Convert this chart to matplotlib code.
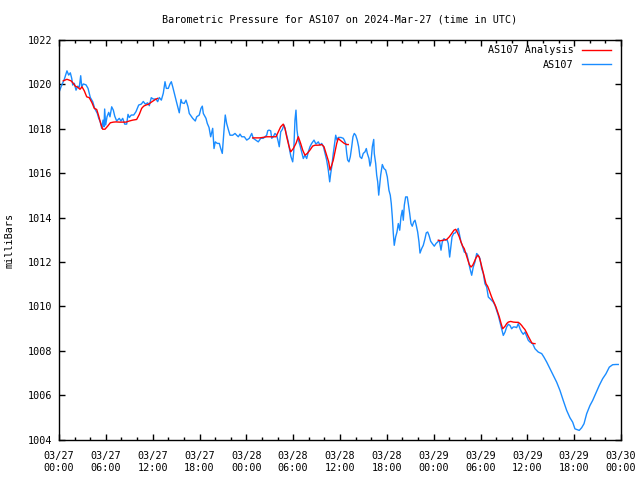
import numpy as np
import matplotlib
matplotlib.use("Agg")
import matplotlib.pyplot as plt
from matplotlib.ticker import MultipleLocator, FixedLocator

# ---- data (hours since 2024-03-27 00:00 UTC, pressure in mbar) ----
blue_hours = [0.00, 0.26, 0.68, 1.02, 1.24, 1.45, 1.63, 1.76, 1.96, 2.18, 2.40, 2.60, 2.78, 2.91, 3.11, 3.46, 3.72, 4.01, 4.32, 4.57,
              4.91, 5.09, 5.29, 5.47, 5.64, 5.76, 5.85, 5.98, 6.15, 6.37, 6.53, 6.75, 6.96, 7.14, 7.39, 7.72, 7.94, 8.16, 8.42, 8.67,
              8.84, 9.01, 9.26, 9.57, 9.86, 10.21, 10.54, 10.80, 11.06, 11.36, 11.57, 11.82, 12.08, 12.43, 12.64, 12.85, 13.11, 13.36, 13.58, 13.75,
              14.00, 14.22, 14.39, 14.57, 14.77, 15.08, 15.41, 15.63, 15.76, 16.05, 16.27, 16.53, 16.69, 17.13, 17.46, 17.64, 17.97, 18.19, 18.36, 18.49,
              18.83, 19.00, 19.22, 19.43, 19.69, 19.86, 20.02, 20.28, 20.54, 20.72, 20.92, 21.14, 21.30, 21.48, 21.69, 21.91, 22.25, 22.55, 22.76, 22.97,
              23.19, 23.41, 23.74, 24.05, 24.38, 24.69, 24.89, 25.20, 25.53, 25.84, 26.17, 26.39, 26.61, 26.74, 26.90, 27.12, 27.25, 27.45, 27.67, 27.89,
              28.09, 28.22, 28.40, 28.61, 28.82, 28.95, 29.17, 29.37, 29.59, 29.72, 29.94, 30.07, 30.23, 30.36, 30.49, 30.66, 30.87, 31.09, 31.30, 31.51,
              31.73, 31.94, 32.15, 32.37, 32.67, 32.92, 33.22, 33.44, 33.65, 33.86, 34.08, 34.29, 34.50, 34.68, 34.81, 34.94, 35.14, 35.36, 35.45, 35.61,
              35.78, 36.13, 36.42, 36.55, 36.73, 36.86, 36.98, 37.15, 37.32, 37.50, 37.66, 37.83, 38.01, 38.21, 38.39, 38.56, 38.78, 38.98, 39.20, 39.37,
              39.50, 39.71, 39.84, 39.97, 40.14, 40.32, 40.39, 40.57, 40.70, 40.83, 40.96, 41.08, 41.21, 41.42, 41.63, 41.85, 42.06, 42.27, 42.44, 42.57,
              42.70, 42.83, 42.95, 43.13, 43.30, 43.47, 43.65, 43.81, 43.98, 44.11, 44.24, 44.41, 44.62, 44.75, 44.93, 45.09, 45.26, 45.44, 45.61, 45.77,
              45.95, 46.12, 46.25, 46.46, 46.67, 46.89, 47.05, 47.23, 47.40, 47.62, 47.82, 48.08, 48.30, 48.51, 48.72, 48.94, 49.10, 49.32, 49.54, 49.71,
              49.87, 50.05, 50.18, 50.35, 50.56, 50.77, 50.99, 51.15, 51.33, 51.50, 51.72, 51.92, 52.23, 52.43, 52.65, 52.87, 53.07, 53.29, 53.51, 53.72,
              53.93, 54.15, 54.36, 54.57, 54.79, 55.00, 55.21, 55.43, 55.64, 55.85, 56.07, 56.28, 56.49, 56.71, 56.92, 57.14, 57.35, 57.56, 57.78, 57.99,
              58.20, 58.42, 58.63, 58.84, 59.06, 59.27, 59.48, 59.70, 59.92, 60.12, 60.34, 60.68, 60.98, 61.40, 61.84, 62.13, 62.48, 62.90, 63.32, 63.76,
              64.18, 64.60, 65.04, 65.46, 65.81, 66.10, 66.40, 66.65, 66.96, 67.26, 67.60, 68.02, 68.37, 68.79, 69.22, 69.65, 70.07, 70.50, 70.93, 71.36,
              71.65]
blue_hpa = [1019.64, 1019.89, 1020.23, 1020.61, 1020.42, 1020.52, 1020.27, 1019.97, 1020.05, 1019.74, 1019.92, 1019.87, 1020.39, 1019.89, 1020.02, 1019.98, 1019.82, 1019.41, 1019.22, 1018.92,
            1018.69, 1018.47, 1018.31, 1018.02, 1018.39, 1018.09, 1018.89, 1018.17, 1018.54, 1018.74, 1018.54, 1018.99, 1018.84, 1018.57, 1018.35, 1018.47, 1018.35, 1018.47, 1018.21, 1018.21,
            1018.65, 1018.51, 1018.62, 1018.62, 1018.77, 1019.07, 1019.11, 1019.23, 1019.11, 1019.17, 1019.04, 1019.40, 1019.34, 1019.34, 1019.22, 1019.41, 1019.29, 1019.60, 1020.12, 1019.82,
            1019.82, 1020.02, 1020.12, 1019.89, 1019.60, 1019.17, 1018.72, 1019.32, 1019.17, 1019.14, 1019.29, 1018.99, 1018.69, 1018.47, 1018.35, 1018.54, 1018.62, 1018.92, 1019.02, 1018.69,
            1018.47, 1018.24, 1018.06, 1017.64, 1018.02, 1017.11, 1017.41, 1017.34, 1017.34, 1017.11, 1016.89, 1017.94, 1018.62, 1018.24, 1017.97, 1017.71, 1017.71, 1017.79, 1017.71, 1017.64,
            1017.76, 1017.64, 1017.64, 1017.49, 1017.57, 1017.79, 1017.57, 1017.49, 1017.41, 1017.57, 1017.57, 1017.64, 1017.71, 1017.91, 1017.94, 1017.91, 1017.57, 1017.64, 1017.79, 1017.71,
            1017.41, 1017.19, 1017.86, 1017.97, 1018.17, 1018.02, 1017.71, 1017.41, 1016.96, 1016.74, 1016.51, 1016.96, 1018.39, 1018.84, 1017.94, 1017.49, 1017.26, 1016.96, 1016.66, 1016.81,
            1016.66, 1016.96, 1017.19, 1017.34, 1017.49, 1017.31, 1017.41, 1017.26, 1017.34, 1017.22, 1016.89, 1016.59, 1016.14, 1015.61, 1015.99, 1016.28, 1016.89, 1017.49, 1017.71, 1017.49,
            1017.61, 1017.61, 1017.57, 1017.49, 1017.34, 1016.89, 1016.59, 1016.51, 1016.74, 1017.19, 1017.64, 1017.79, 1017.71, 1017.49, 1017.19, 1016.74, 1016.66, 1016.89, 1016.96, 1017.11,
            1016.89, 1016.66, 1016.32, 1016.51, 1017.19, 1017.52, 1016.89, 1016.44, 1015.91, 1015.61, 1015.01, 1015.46, 1015.91, 1016.39, 1016.21, 1016.14, 1015.83, 1015.23, 1015.01, 1014.63,
            1014.03, 1013.28, 1012.75, 1013.13, 1013.35, 1013.73, 1013.43, 1014.03, 1014.33, 1013.88, 1014.56, 1014.93, 1014.93, 1014.63, 1014.18, 1013.73, 1013.61, 1013.80, 1013.88, 1013.65,
            1013.35, 1012.90, 1012.40, 1012.60, 1012.75, 1013.05, 1013.31, 1013.35, 1013.20, 1012.93, 1012.83, 1012.71, 1012.83, 1012.90, 1012.98, 1012.53, 1012.90, 1013.05, 1012.98, 1013.01,
            1012.83, 1012.22, 1012.60, 1013.13, 1013.28, 1013.31, 1013.43, 1013.51, 1013.20, 1012.90, 1012.68, 1012.45, 1012.38, 1012.08, 1011.70, 1011.40, 1011.77, 1012.00, 1012.38, 1012.30,
            1012.15, 1011.70, 1011.48, 1011.02, 1010.87, 1010.42, 1010.35, 1010.27, 1010.19, 1010.05, 1009.82, 1009.59, 1009.29, 1008.99, 1008.69, 1008.84, 1009.07, 1009.19, 1009.14, 1008.99,
            1009.07, 1009.07, 1009.04, 1009.22, 1008.99, 1008.84, 1008.74, 1008.84, 1008.65, 1008.47, 1008.39, 1008.32, 1008.09, 1007.94, 1007.87, 1007.71, 1007.49, 1007.19, 1006.89, 1006.58,
            1006.21, 1005.76, 1005.31, 1004.98, 1004.78, 1004.48, 1004.44, 1004.41, 1004.53, 1004.71, 1005.16, 1005.53, 1005.76, 1006.09, 1006.44, 1006.74, 1006.96, 1007.26, 1007.37, 1007.38,
            1007.38]

# analysis series: three segments (separated by gaps in the record)
red_hours_1 = [0.55, 1.02, 1.54, 1.83, 2.09, 2.40, 2.69, 2.95, 3.24, 3.55, 3.88, 4.23, 4.52, 4.83, 5.09, 5.34, 5.60, 5.89, 6.24, 6.57,
               6.96, 7.30, 7.72, 8.16, 8.58, 9.01, 9.44, 9.95, 10.29, 10.59, 10.85, 11.15, 11.49, 11.79, 12.08, 12.34, 12.64]
red_hpa_1 = [1020.16, 1020.23, 1020.16, 1020.05, 1019.92, 1019.87, 1019.78, 1019.89, 1019.71, 1019.44, 1019.40, 1019.17, 1018.92, 1018.87, 1018.57, 1018.24, 1017.98, 1017.98, 1018.12, 1018.27,
             1018.30, 1018.31, 1018.30, 1018.30, 1018.30, 1018.35, 1018.39, 1018.42, 1018.65, 1018.92, 1019.02, 1019.07, 1019.11, 1019.19, 1019.26, 1019.32, 1019.37]
red_hours_2 = [24.81, 25.75, 26.61, 27.80, 28.09, 28.40, 28.73, 28.95, 29.17, 29.43, 29.68, 30.02, 30.36, 30.66, 30.96, 31.22, 31.51, 31.81, 32.15, 32.50,
               32.80, 33.22, 33.65, 33.95, 34.29, 34.55, 34.72, 34.94, 35.14, 35.36, 35.58, 35.78, 36.00, 36.29, 36.55, 36.86, 37.06]
red_hpa_2 = [1017.59, 1017.59, 1017.64, 1017.64, 1017.86, 1018.09, 1018.21, 1018.02, 1017.64, 1017.26, 1016.96, 1017.11, 1017.34, 1017.64, 1017.34, 1017.04, 1016.81, 1016.89, 1017.04, 1017.22,
             1017.26, 1017.26, 1017.29, 1017.19, 1016.81, 1016.51, 1016.14, 1016.36, 1016.59, 1016.96, 1017.34, 1017.57, 1017.49, 1017.41, 1017.34, 1017.29, 1017.29]
red_hours_3 = [48.59, 48.81, 49.23, 49.67, 50.00, 50.31, 50.60, 50.82, 51.02, 51.28, 51.50, 51.72, 51.92, 52.14, 52.36, 52.56, 52.78, 53.00, 53.20, 53.42,
               53.64, 53.84, 54.06, 54.28, 54.48, 54.70, 54.92, 55.12, 55.34, 55.56, 55.76, 55.98, 56.20, 56.41, 56.62, 56.84, 57.14, 57.35, 57.56, 57.87,
               58.20, 58.55, 58.84, 59.06, 59.27, 59.48, 59.70, 59.92, 60.12, 60.34, 60.59, 60.89, 60.98]
red_hpa_3 = [1012.98, 1012.95, 1012.98, 1013.01, 1013.13, 1013.28, 1013.43, 1013.47, 1013.35, 1013.13, 1012.90, 1012.71, 1012.60, 1012.35, 1012.11, 1011.89, 1011.77, 1011.85, 1012.00, 1012.18,
             1012.30, 1012.22, 1011.93, 1011.62, 1011.32, 1011.02, 1010.90, 1010.72, 1010.50, 1010.30, 1010.15, 1009.97, 1009.74, 1009.52, 1009.25, 1008.99, 1009.10, 1009.22, 1009.29, 1009.32,
             1009.29, 1009.28, 1009.28, 1009.22, 1009.14, 1009.04, 1008.95, 1008.80, 1008.65, 1008.50, 1008.34, 1008.32, 1008.32]

x_tick_hours = [0, 6, 12, 18, 24, 30, 36, 42, 48, 54, 60, 66, 72]
x_tick_labels = ["03/27\n00:00", "03/27\n06:00", "03/27\n12:00", "03/27\n18:00",
                 "03/28\n00:00", "03/28\n06:00", "03/28\n12:00", "03/28\n18:00",
                 "03/29\n00:00", "03/29\n06:00", "03/29\n12:00", "03/29\n18:00",
                 "03/30\n00:00"]
y_ticks = [1004, 1006, 1008, 1010, 1012, 1014, 1016, 1018, 1020, 1022]

title = "Barometric Pressure for AS107 on 2024-Mar-27 (time in UTC)"
ylabel = "milliBars"
label_red = "AS107 Analysis"
label_blue = "AS107"

# ---- drawing ----
FONT = "DejaVu Sans Mono"
FS = 7.3
plt.rcParams["font.family"] = FONT
plt.rcParams["font.size"] = FS

fig = plt.figure(figsize=(6.4, 4.8), dpi=100)
ax = fig.add_axes([59 / 640, 1 - 439.5 / 480, 562 / 640, 399.5 / 480])

red_h = red_hours_1 + [np.nan] + red_hours_2 + [np.nan] + red_hours_3
red_p = red_hpa_1 + [np.nan] + red_hpa_2 + [np.nan] + red_hpa_3

ax.plot(red_h, red_p, color="#ff0000", lw=1.0, label=label_red, zorder=3)
ax.plot(blue_hours, blue_hpa, color="#1a8cff", lw=1.0, label=label_blue, zorder=2)

ax.set_xlim(0, 72)
ax.set_ylim(1004, 1022)
ax.xaxis.set_major_locator(FixedLocator(x_tick_hours))
ax.set_xticklabels(x_tick_labels, linespacing=1.2)
ax.xaxis.set_minor_locator(MultipleLocator(2))
ax.set_yticks(y_ticks)
ax.set_yticklabels([str(v) for v in y_ticks])

for s in ax.spines.values():
    s.set_linewidth(1.0)
    s.set_color("black")

ax.tick_params(axis="both", which="major", direction="in", length=4, width=1.0,
               top=True, right=True, labelsize=FS, colors="black")
ax.tick_params(axis="x", which="minor", direction="in", length=2, width=1.0, top=True)
ax.tick_params(axis="x", which="major", pad=8.5)
ax.tick_params(axis="y", which="major", pad=5)

fig.text(340 / 640, 1 - 19 / 480, title, ha="center", va="center", fontsize=FS)
fig.text(10 / 640, 1 - 240 / 480, ylabel, ha="center", va="center", rotation=90, fontsize=FS)

leg = ax.legend(loc="upper right", bbox_to_anchor=(1 - 6 / 562, 1 - 1 / 399.5),
                frameon=False, markerfirst=False, fontsize=FS,
                handlelength=2.9, handletextpad=0.8, labelspacing=0.45,
                borderaxespad=0.3, borderpad=0.1)

fig.savefig("out.png", dpi=100)
